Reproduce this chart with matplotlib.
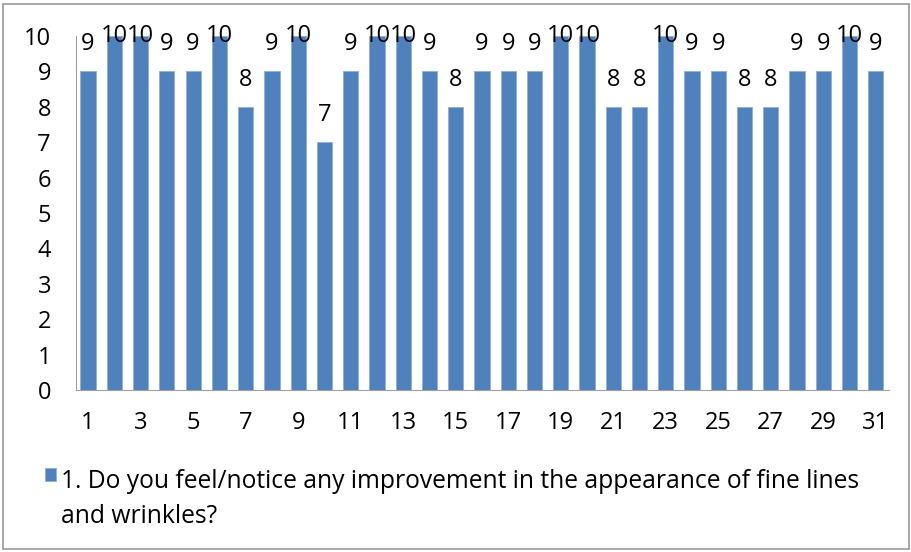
import matplotlib
matplotlib.use("Agg")
import matplotlib.pyplot as plt
from matplotlib.patches import Rectangle

categories = list(range(1, 32))
values = [9, 10, 10, 9, 9, 10, 8, 9, 10, 7, 9, 10, 10, 9, 8, 9, 9, 9, 10, 10,
          8, 8, 10, 9, 9, 8, 8, 9, 9, 10, 9]
xtick_labels = [str(c) for c in categories if c % 2 == 1]
series_label = "1. Do you feel/notice any improvement in the appearance of fine lines\nand wrinkles?"

plt.rcParams['font.family'] = ["Open Sans", "DejaVu Sans"]

W, H = 911, 552
fig = plt.figure(figsize=(W/100, H/100), dpi=100)
ax = fig.add_axes([76/W, 1-390/H, (889-76)/W, (390-36)/H])

bar_color = "#4F81BD"
bars = ax.bar(categories, values, width=0.58, color=bar_color, edgecolor="#8DB0DA", linewidth=0.6, zorder=2)

fs = 17
for c, v in zip(categories, values):
    ax.text(c, min(v + 0.77, 10.0), str(v), ha="center", va="center", fontsize=fs, color="black", clip_on=False)

ax.set_xlim(0.54, 31.5)
ax.set_ylim(0, 10)
ax.set_yticks(range(0, 11))
ax.set_xticks([c for c in categories if c % 2 == 1])
ax.set_xticklabels(xtick_labels)
ax.tick_params(axis="both", length=0, labelsize=fs)
ax.tick_params(axis="y", pad=18)
ax.tick_params(axis="x", pad=15)
for s in ["top", "right"]:
    ax.spines[s].set_visible(False)
ax.spines["left"].set_color("#A0A0A0")
ax.spines["bottom"].set_color("#A0A0A0")

# legend (manual, to match wrapped Excel legend)
fig.patches.append(Rectangle((45/W, 1-481/H), 11/W, 13/H, transform=fig.transFigure,
                             facecolor=bar_color, edgecolor="#8DB0DA", linewidth=0.6))
fig.text(61/W, 1-469/H, series_label, ha="left", va="top", fontsize=17.7, linespacing=1.55)

fig.patches.append(Rectangle((3/W, 3/H), 906/W, 545/H, transform=fig.transFigure,
                             fill=False, edgecolor="#9A9A9A", linewidth=1.2))

fig.savefig("out.png", dpi=100)
